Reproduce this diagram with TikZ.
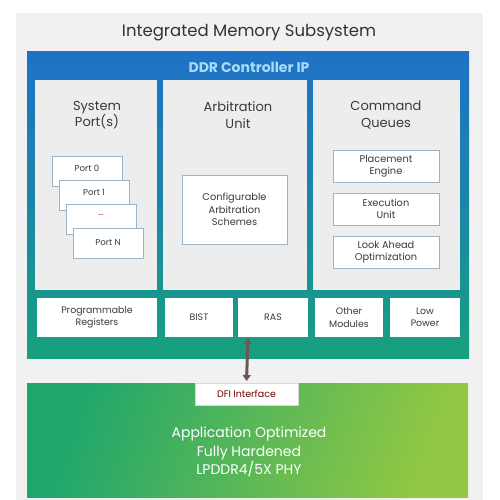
\documentclass[tikz,border=0pt]{standalone}
\usepackage{fontspec}
\setmainfont{Poppins}
\usetikzlibrary{arrows.meta}
\definecolor{panelgray}{HTML}{F1F1F1}
\definecolor{ddrtop}{HTML}{1F72C6}
\definecolor{ddrbot}{HTML}{17A07E}
\definecolor{colgray}{HTML}{EDEDED}
\definecolor{boxedge}{HTML}{9DB3C4}
\definecolor{txtdark}{HTML}{3A3A3A}
\definecolor{hdrtxt}{HTML}{A9DCFA}
\definecolor{phyleft}{HTML}{1EA66C}
\definecolor{phyright}{HTML}{92C843}
\definecolor{arrowc}{HTML}{6A5858}
\begin{document}
\begin{tikzpicture}[x=1pt,y=-1pt,
  every node/.style={inner sep=0pt, outer sep=0pt, align=center, text=txtdark},
  colbox/.style={fill=colgray, draw=none, anchor=north west},
  inbox/.style={fill=white, draw=boxedge, line width=0.6pt, anchor=north west, font=\fontsize{9.8}{12.5}\selectfont},
  portfont/.style={font=\fontsize{8.6}{10}\selectfont},
  rowbox/.style={fill=white, draw=none, anchor=north west, font=\fontsize{9.4}{12.5}\selectfont},
  coltitle/.style={font=\fontsize{13}{16.5}\selectfont, text=txtdark},
  dblarrow/.style={{Triangle[length=6pt,width=8pt]}-{Triangle[length=6pt,width=8pt]}, line width=3pt, draw=arrowc}
]
\useasboundingbox (0,0) rectangle (500,500);
\fill[white] (0,0) rectangle (500,500);
% outer panel
\node[fill=panelgray, anchor=north west, minimum width=467pt, minimum height=487pt] (outer) at (16,13) {};
\node[font=\fontsize{16.5}{18}\selectfont, text=black!80] (title) at (249,33) {Integrated Memory Subsystem};
% DDR controller
\node[anchor=north west, minimum width=442pt, minimum height=306pt, top color=ddrtop, bottom color=ddrbot, middle color=ddrtop!55!ddrbot] (ddr) at (27,52) {};
\node[font=\fontsize{14}{16}\selectfont\bfseries, text=hdrtxt] (ddrtitle) at (249,67) {DDR Controller IP};
% columns
\node[colbox, minimum width=122pt, minimum height=210pt] (colA) at (35,80) {};
\node[colbox, minimum width=144pt, minimum height=210pt] (colB) at (163,80) {};
\node[colbox, minimum width=147pt, minimum height=210pt] (colC) at (313,80) {};
\node[coltitle] (tA) at (97,115) {System\\Port(s)};
\node[coltitle] (tB) at (238,115) {Arbitration\\Unit};
\node[coltitle] (tC) at (386,115) {Command\\Queues};
% ports
\node[inbox, minimum width=70pt, minimum height=30pt] (p0) at (52,156) {};
\node[portfont] at (87,168) {Port 0};
\node[inbox, minimum width=70pt, minimum height=30pt] (p1) at (59,180) {};
\node[portfont] at (94,192) {Port 1};
\node[inbox, minimum width=70pt, minimum height=30pt] (pd) at (66,204) {};
\node[portfont, text=red!50!txtdark] at (101,215) {...};
\node[inbox, portfont, minimum width=70pt, minimum height=30pt] (pn) at (73,228) {Port N};
% arbitration
\node[inbox, minimum width=105pt, minimum height=69pt] (arb) at (182,175) {Configurable\\Arbitration\\Schemes};
% command queues
\node[inbox, minimum width=106pt, minimum height=32pt] (cq1) at (333,150) {Placement\\Engine};
\node[inbox, minimum width=106pt, minimum height=32pt] (cq2) at (333,193) {Execution\\Unit};
\node[inbox, minimum width=106pt, minimum height=32pt] (cq3) at (333,236) {Look Ahead\\Optimization};
% bottom row
\node[rowbox, minimum width=120pt, minimum height=39pt] (r1) at (37,298) {Programmable\\Registers};
\node[rowbox, minimum width=68pt, minimum height=39pt] (r2) at (165,298) {BIST};
\node[rowbox, minimum width=70pt, minimum height=39pt] (r3) at (238,298) {RAS};
\node[rowbox, minimum width=68pt, minimum height=39pt] (r4) at (315,298) {Other\\Modules};
\node[rowbox, minimum width=70pt, minimum height=39pt] (r5) at (390,298) {Low\\Power};
% PHY
\node[anchor=north west, minimum width=441pt, minimum height=114pt, shading=axis, left color=phyleft, right color=phyright, shading angle=70] (phy) at (27,383) {};
\node[font=\fontsize{14}{18.5}\selectfont, text=white] (phytxt) at (249,452) {Application Optimized\\Fully Hardened\\LPDDR4/5X PHY};
\node[fill=white, draw=white!85!black, anchor=north west, minimum width=103pt, minimum height=22pt, font=\fontsize{9.5}{11}\selectfont, text=red!45!black] (dfi) at (195,383) {DFI Interface};
% arrow
\draw[dblarrow] ([yshift=20pt]ddr.south) -- ([yshift=2pt]dfi.north);
\end{tikzpicture}
\end{document}
